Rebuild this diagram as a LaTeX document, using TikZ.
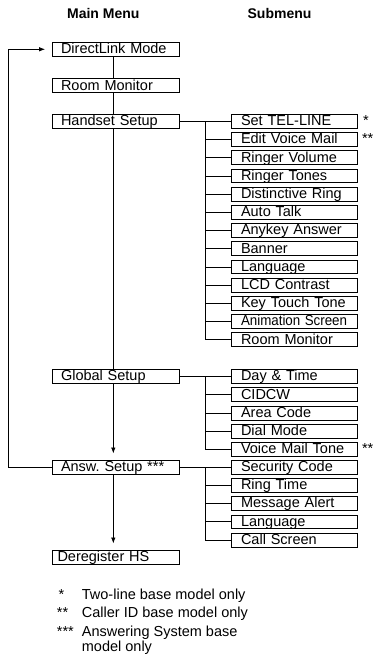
\documentclass[tikz,border=0pt]{standalone}
\usepackage{fontspec}
\setmainfont{Liberation Sans}
\usetikzlibrary{arrows.meta}
\begin{document}
\frenchspacing
\begin{tikzpicture}[x=1pt,y=-1pt,
  every node/.style={inner sep=0pt},
  txt/.style={font=\fontsize{14.5}{16}\selectfont},
  mainbox/.style={draw, line width=0.8pt, txt, text width=110pt, align=left, inner xsep=8.5pt, inner ysep=0pt, text height=11.5pt, text depth=2.7pt},
  subbox/.style={draw, line width=0.8pt, txt, text width=106pt, align=left, inner xsep=10pt, inner ysep=0pt, text height=11.3pt, text depth=2.5pt},
  conn/.style={line width=0.8pt},
  arr/.style={conn, -{Latex[length=6pt,width=4.5pt]}},
  note/.style={txt, anchor=base west},
  head/.style={font=\bfseries\fontsize{14}{16}\selectfont, anchor=base},
]
\useasboundingbox (0,0) rectangle (373,655);

\node[head] (mm) at (103.3,18.3) {Main Menu};
\node[head] (sm) at (279.5,18.3) {Submenu};

\node[mainbox] (dl) at (116,49.3) {DirectLink Mode};
\node[mainbox] (rm) at (116,85.7) {Room Monitor};
\node[mainbox] (hs) at (116,121.3) {Handset Setup};
\node[mainbox] (gs) at (116,376.5) {Global Setup};
\node[mainbox] (as) at (116,467) {Answ.\ Setup ***};
\node[mainbox, inner xsep=5pt, text width=117pt] (dr) at (116,557.5) {Deregister HS};

\foreach \t [count=\i] in {Set TEL-LINE, Edit Voice Mail, Ringer Volume, Ringer Tones, Distinctive Ring, Auto Talk, Anykey Answer, Banner, Language, LCD Contrast, Key Touch Tone, {\scalebox{0.92}[1]{Animation Screen}}, Room Monitor}
  \node[subbox] (h\i) at (294,{121.3+18.2*(\i-1)}) {\t};
\foreach \t [count=\i] in {Day \& Time, CIDCW, Area Code, Dial Mode, Voice Mail Tone}
  \node[subbox] (g\i) at (294,{376.5+18.27*(\i-1)}) {\t};
\foreach \t [count=\i] in {Security Code, Ring Time, Message Alert, Language, Call Screen}
  \node[subbox] (a\i) at (294,{467+18.27*(\i-1)}) {\t};

\coordinate (vx) at (113.3,0);
\coordinate (bx) at (205.7,0);
\coordinate (lx) at (8.3,0);

\draw[conn] (dl.south -| vx) -- (rm.north -| vx);
\draw[conn] (rm.south -| vx) -- (hs.north -| vx);
\draw[conn] (hs.south -| vx) -- (gs.north -| vx);
\draw[arr, shorten >=6pt] (gs.south -| vx) -- (as.north -| vx);
\draw[arr, shorten >=6.5pt] (as.south -| vx) -- (dr.north -| vx);
\draw[arr, shorten >=7pt] (as.west) -- (as.west -| lx) -- (dl.west -| lx) -- (dl.west);

\draw[conn] (hs.east) -- (h1.west);
\draw[conn] (hs.east -| bx) -- (h13.west -| bx) -- (h13.west);
\foreach \i in {2,...,12} \draw[conn] (h\i.west -| bx) -- (h\i.west);

\draw[conn] (gs.east) -- (g1.west);
\draw[conn] (gs.east -| bx) -- (g5.west -| bx) -- (g5.west);
\foreach \i in {2,...,4} \draw[conn] (g\i.west -| bx) -- (g\i.west);

\draw[conn] (as.east) -- (a1.west);
\draw[conn] (as.east -| bx) -- (a5.west -| bx) -- (a5.west);
\foreach \i in {2,...,4} \draw[conn] (a\i.west -| bx) -- (a\i.west);

\node[note] (s1) at ([xshift=5.5pt]h1.base east) {*};
\node[note] (s2) at ([xshift=4.5pt]h2.base east) {**};
\node[note] (s3) at ([xshift=4.5pt]g5.base east) {**};

\node[note] (f1s) at (58.3,599.3) {*};
\node[note] (f1) at (81.7,599.3) {Two-line base model only};
\node[note] (f2s) at (56.7,617.7) {**};
\node[note] (f2) at (81.7,617.7) {Caller ID base model only};
\node[note] (f3s) at (56.7,636) {***};
\node[note] (f3) at (81.7,636) {Answering System base};
\node[note] (f4) at (81.7,651.5) {model only};
\end{tikzpicture}
\end{document}
